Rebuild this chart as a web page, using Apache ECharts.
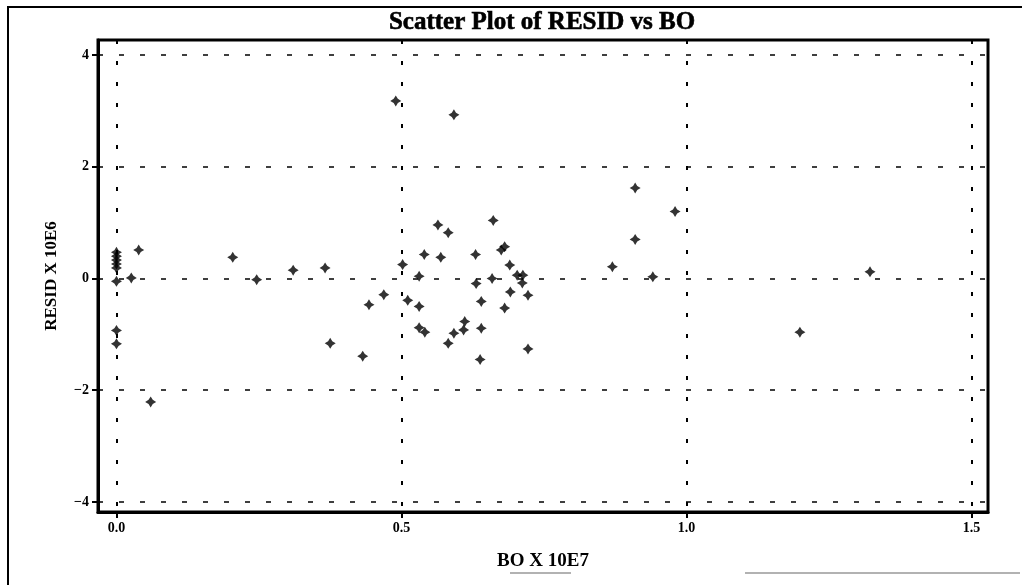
<!DOCTYPE html>
<html style="height: 100%">
<head>
    <meta charset="utf-8">
    <title>Scatter Plot of RESID vs BO</title>
    <script src="https://cdn.jsdelivr.net/npm/echarts@6/dist/echarts.min.js"></script>
</head>
<body style="height: 100%; margin: 0; background: #fff">
<div id="container" style="width: 1022px; height: 585px"></div>
<script type="text/javascript">
// values: BO (x 10E7) against RESID (x 10E6)
const boValues = [
    0, 0, 0, 0, 0, 0.039, 0.026, 0, 0, 0,
    0.06, 0.204, 0.246, 0.31, 0.366, 0.375, 0.432, 0.443, 0.469, 0.49,
    0.502, 0.511, 0.531, 0.531, 0.531, 0.541, 0.540, 0.569, 0.564, 0.582,
    0.592, 0.592, 0.582, 0.611, 0.609, 0.630, 0.631, 0.640, 0.640, 0.638,
    0.659, 0.661, 0.675, 0.681, 0.681, 0.690, 0.691, 0.703, 0.713, 0.712,
    0.722, 0.722, 0.87, 0.91, 0.91, 0.941, 0.98, 1.199, 1.322
];
const residValues = [
    0.47, 0.40, 0.33, 0.26, 0.19, 0.51, 0.01, -0.05, -0.93, -1.17,
    -2.21, 0.38, -0.02, 0.15, 0.19, -1.16, -1.39, -0.47, -0.29, 3.18,
    0.25, -0.39, 0.04, -0.50, -0.88, -0.96, 0.43, 0.38, 0.96, 0.82,
    2.93, -0.98, -1.16, -0.77, -0.92, 0.43, -0.09, -0.41, -0.89, -1.45,
    0.00, 1.04, 0.51, 0.57, -0.53, 0.24, -0.24, 0.06, 0.06, -0.08,
    -0.30, -1.26, 0.21, 0.70, 1.62, 0.03, 1.20, -0.96, 0.12
];
const xTicks = [0, 0.5, 1.0, 1.5];
const yTicks = [-4, -2, 0, 2, 4];

const points = boValues.map(function (bo, i) {
    return [bo, residValues[i]];
});

const font = 'Liberation Serif';

let chart = echarts.init(document.getElementById('container'));
chart.setOption({
    animation: false,
    backgroundColor: '#fff',
    graphic: [
        {
            type: 'text',
            x: 542, y: 23,
            style: {
                text: 'Scatter Plot of RESID vs BO',
                font: 'bold 25px "Liberation Serif"',
                fill: '#000',
                stroke: '#000',
                lineWidth: 0.6,
                textAlign: 'center',
                textVerticalAlign: 'middle'
            }
        },
        {
            type: 'polyline',
            shape: { points: [[8, 585], [8, 7], [1022, 7]] },
            style: { stroke: '#000', lineWidth: 2, fill: null }
        },
        {
            type: 'line',
            shape: { x1: 510, y1: 573, x2: 571, y2: 573 },
            style: { stroke: '#999', lineWidth: 1.5 }
        },
        {
            type: 'line',
            shape: { x1: 745, y1: 573, x2: 1020, y2: 573 },
            style: { stroke: '#999', lineWidth: 1.5 }
        }
    ],
    grid: {
        left: 98,
        right: 34,
        top: 40,
        bottom: 73,
        show: true,
        borderColor: '#000',
        borderWidth: 3
    },
    xAxis: {
        type: 'value',
        min: -0.0324,
        max: 1.529,
        name: 'BO X 10E7',
        nameLocation: 'middle',
        nameGap: 40,
        nameTextStyle: { fontFamily: font, fontWeight: 'bold', fontSize: 19, color: '#000' },
        axisLine: { onZero: false, lineStyle: { color: '#000', width: 3 } },
        axisTick: { customValues: xTicks, length: 6, lineStyle: { color: '#000', width: 2 } },
        axisLabel: {
            customValues: xTicks,
            margin: 9,
            fontFamily: font,
            fontWeight: 'bold',
            fontSize: 14,
            color: '#000',
            formatter: function (v) { return v.toFixed(1); }
        },
        splitLine: { show: true, lineStyle: { color: '#000', width: 2, type: [4, 17] } }
    },
    yAxis: {
        type: 'value',
        min: -4.18,
        max: 4.27,
        name: 'RESID X 10E6',
        nameLocation: 'middle',
        nameGap: 38,
        nameTextStyle: { fontFamily: font, fontWeight: 'bold', fontSize: 17, color: '#000' },
        axisLine: { onZero: false, lineStyle: { color: '#000', width: 3 } },
        axisTick: { customValues: yTicks, length: 6, lineStyle: { color: '#000', width: 2 } },
        axisLabel: {
            customValues: yTicks,
            margin: 9,
            fontFamily: font,
            fontWeight: 'bold',
            fontSize: 14,
            color: '#000',
            formatter: function (v) { return String(v).replace('-', '\u2212'); }
        },
        splitLine: { show: true, lineStyle: { color: '#000', width: 1.6, type: [5, 16] } }
    },
    series: [
        {
            name: 'RESID',
            type: 'scatter',
            data: points,
            symbol: 'path://M5 0 L6.9 3.1 L10 5 L6.9 6.9 L5 10 L3.1 6.9 L0 5 L3.1 3.1 Z',
            symbolSize: 11,
            itemStyle: { color: '#000' }
        }
    ]
});
</script>
</body>
</html>
